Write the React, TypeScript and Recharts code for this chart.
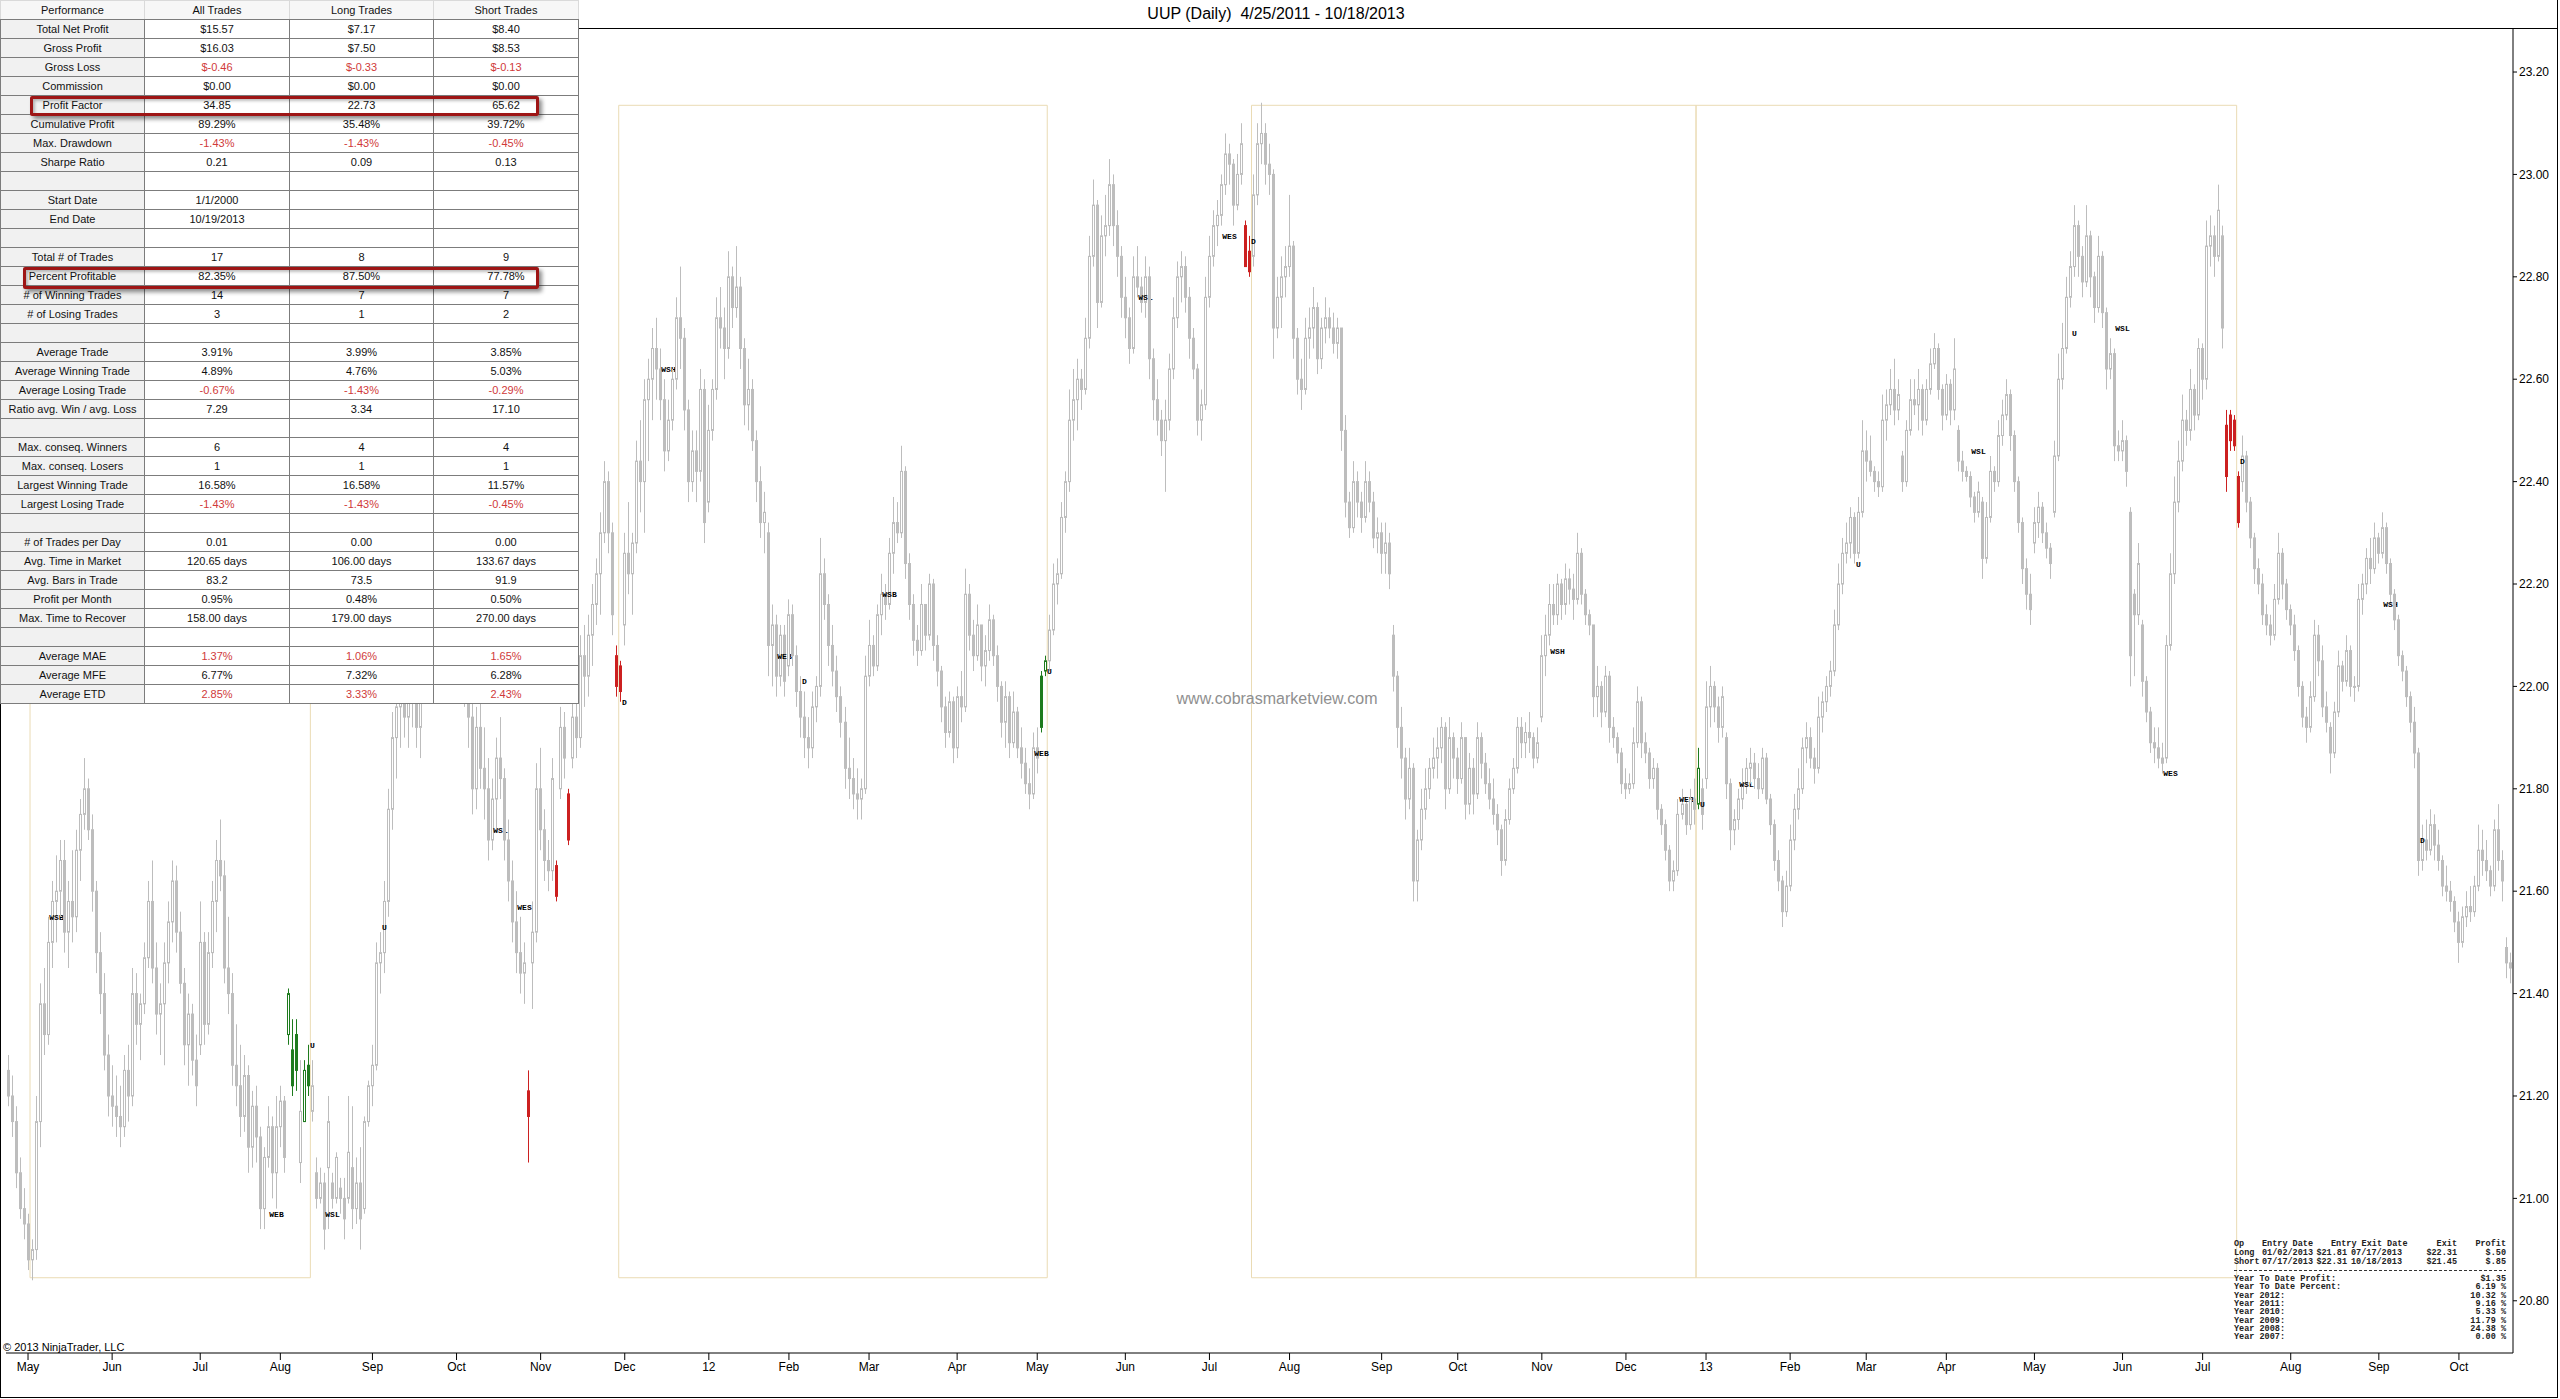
import React from "react";
import { ComposedChart, Bar, XAxis, YAxis, ReferenceArea } from "recharts";

// daily UUP bars, [open, high, low, close], one array per month
type OHLC = [number, number, number, number];

const apr11: OHLC[] = [
  [21.25,21.28,21.18,21.2],[21.2,21.24,21.12,21.15],[21.15,21.18,21.02,21.05],[21.05,21.08,20.96,20.98],[20.98,21.02,20.92,20.95],
];
const may11: OHLC[] = [
  [20.95,20.97,20.86,20.88],[20.88,20.92,20.84,20.9],[20.9,21.2,20.88,21.15],[21.15,21.42,21.1,21.38],[21.38,21.45,21.28,21.32],
  [21.32,21.55,21.3,21.5],[21.5,21.62,21.45,21.58],[21.58,21.67,21.5,21.6],[21.6,21.7,21.55,21.66],[21.66,21.7,21.48,21.52],
  [21.52,21.62,21.45,21.58],[21.58,21.68,21.5,21.55],[21.55,21.72,21.52,21.68],[21.68,21.78,21.62,21.75],[21.75,21.86,21.72,21.8],
  [21.8,21.82,21.7,21.72],[21.72,21.75,21.56,21.6],[21.6,21.62,21.44,21.48],[21.48,21.52,21.36,21.4],[21.4,21.44,21.25,21.28],
  [21.28,21.32,21.16,21.2],
];
const jun11: OHLC[] = [
  [21.2,21.26,21.14,21.18],[21.18,21.24,21.12,21.16],[21.16,21.22,21.1,21.14],[21.14,21.28,21.12,21.25],[21.25,21.3,21.15,21.2],
  [21.2,21.45,21.18,21.4],[21.4,21.44,21.3,21.34],[21.34,21.4,21.27,21.38],[21.38,21.5,21.36,21.47],[21.47,21.62,21.45,21.58],
  [21.58,21.66,21.42,21.45],[21.45,21.5,21.32,21.36],[21.36,21.42,21.28,21.38],[21.38,21.5,21.26,21.46],[21.46,21.58,21.42,21.54],
  [21.54,21.66,21.5,21.62],[21.62,21.65,21.48,21.52],[21.52,21.56,21.4,21.42],[21.42,21.45,21.26,21.3],[21.3,21.4,21.22,21.36],
  [21.36,21.38,21.24,21.27],[21.27,21.32,21.18,21.22],
];
const jul11: OHLC[] = [
  [21.3,21.58,21.28,21.5],[21.5,21.52,21.3,21.34],[21.34,21.52,21.32,21.48],[21.48,21.62,21.45,21.58],[21.58,21.7,21.52,21.66],
  [21.66,21.74,21.6,21.63],[21.63,21.66,21.42,21.45],[21.45,21.55,21.36,21.4],[21.4,21.44,21.22,21.26],[21.26,21.34,21.18,21.22],
  [21.22,21.3,21.12,21.16],[21.16,21.28,21.13,21.24],[21.24,21.26,21.05,21.1],[21.1,21.21,21.06,21.18],[21.18,21.22,21.07,21.12],
  [21.12,21.14,20.94,20.98],[20.98,21.1,20.94,21.08],[21.08,21.18,21.06,21.14],[21.14,21.16,21.0,21.05],[21.05,21.2,20.98,21.14],
];
const aug11: OHLC[] = [
  [21.14,21.22,21.1,21.19],[21.19,21.2,21.05,21.08],[21.32,21.41,21.3,21.4],[21.29,21.35,21.2,21.22],[21.32,21.35,21.21,21.25],
  [21.07,21.27,21.03,21.17],[21.15,21.27,21.15,21.25],[21.26,21.3,21.2,21.22],[21.17,21.27,21.15,21.22],[21.05,21.08,20.98,21.0],
  [21.0,21.06,20.99,21.03],[21.03,21.05,20.9,20.94],[21.06,21.2,20.94,21.15],[21.03,21.05,20.98,21.0],[21.0,21.09,20.99,21.08],
  [21.02,21.04,20.97,21.0],[21.0,21.04,20.92,20.96],[21.0,21.2,20.99,21.09],[21.06,21.18,20.94,20.98],[20.98,21.08,20.95,21.03],
  [21.03,21.1,20.9,20.96],[20.98,21.16,20.97,21.15],[21.15,21.23,21.14,21.22],
];
const sep11: OHLC[] = [
  [21.22,21.3,21.18,21.26],[21.26,21.5,21.25,21.46],[21.46,21.52,21.4,21.48],[21.48,21.62,21.44,21.58],[21.58,21.8,21.55,21.76],
  [21.76,21.95,21.72,21.9],[21.9,22.02,21.82,21.96],[21.96,22.1,21.88,22.05],[22.05,22.08,21.9,21.94],[21.94,22.06,21.88,22.02],
  [22.02,22.12,21.92,21.98],[21.98,22.04,21.88,21.92],[21.92,22.08,21.86,22.04],[22.04,22.28,22.0,22.24],[22.24,22.36,22.18,22.3],
  [22.3,22.34,22.12,22.16],[22.16,22.22,22.04,22.1],[22.1,22.2,22.02,22.15],[22.15,22.26,22.08,22.2],[22.2,22.3,22.12,22.26],
  [22.26,22.34,22.16,22.22],
];
const oct11: OHLC[] = [
  [22.22,22.4,22.15,22.35],[22.35,22.46,22.2,22.28],[22.28,22.3,21.96,22.02],[22.02,22.1,21.88,21.94],[21.94,22.04,21.75,21.8],
  [21.8,21.96,21.76,21.92],[21.92,21.98,21.8,21.84],[21.84,21.92,21.74,21.8],[21.8,21.86,21.66,21.7],[21.7,21.82,21.68,21.78],
  [21.78,21.9,21.72,21.86],[21.86,21.94,21.78,21.82],[21.82,21.84,21.66,21.7],[21.7,21.74,21.58,21.62],[21.62,21.66,21.5,21.54],
  [21.54,21.6,21.44,21.48],[21.48,21.55,21.4,21.44],[21.44,21.5,21.38,21.46],[21.21,21.25,21.07,21.16],[21.46,21.58,21.37,21.52],
  [21.52,21.85,21.5,21.8],
];
const nov11: OHLC[] = [
  [21.8,21.88,21.68,21.72],[21.72,21.76,21.62,21.66],[21.66,21.7,21.6,21.64],[21.64,21.86,21.62,21.82],[21.65,21.66,21.58,21.59],
  [21.8,21.96,21.78,21.92],[21.92,21.95,21.82,21.86],[21.79,21.8,21.69,21.7],[21.86,21.98,21.84,21.94],[21.94,22.0,21.86,21.9],
  [21.9,22.1,21.88,22.06],[22.06,22.12,21.96,22.02],[22.02,22.14,21.98,22.1],[22.1,22.2,22.04,22.16],[22.16,22.25,22.12,22.22],
  [22.22,22.34,22.14,22.3],[22.3,22.44,22.28,22.4],[22.4,22.42,22.26,22.3],[22.3,22.32,22.1,22.14],[22.06,22.08,21.98,22.0],
  [22.04,22.05,21.97,21.99],
];
const dec11: OHLC[] = [
  [22.12,22.3,22.08,22.26],[22.26,22.36,22.18,22.22],[22.22,22.3,22.14,22.28],[22.28,22.48,22.26,22.44],[22.44,22.52,22.34,22.4],
  [22.4,22.6,22.3,22.56],[22.56,22.64,22.44,22.6],[22.6,22.7,22.52,22.66],[22.66,22.72,22.56,22.62],[22.62,22.66,22.52,22.56],
  [22.56,22.6,22.42,22.46],[22.46,22.56,22.44,22.52],[22.52,22.62,22.5,22.6],[22.6,22.76,22.58,22.72],[22.72,22.82,22.62,22.68],
  [22.68,22.7,22.5,22.54],[22.54,22.56,22.36,22.4],[22.4,22.5,22.38,22.46],[22.46,22.5,22.36,22.42],[22.42,22.62,22.4,22.58],
  [22.58,22.6,22.28,22.32],
];
const jan12: OHLC[] = [
  [22.36,22.55,22.34,22.5],[22.5,22.6,22.48,22.58],[22.58,22.76,22.56,22.72],[22.72,22.78,22.66,22.7],[22.7,22.74,22.6,22.66],
  [22.66,22.85,22.64,22.8],[22.8,22.82,22.7,22.74],[22.74,22.86,22.72,22.78],[22.78,22.8,22.62,22.66],[22.66,22.68,22.51,22.55],
  [22.55,22.64,22.5,22.58],[22.58,22.6,22.46,22.48],[22.48,22.5,22.36,22.4],[22.4,22.43,22.29,22.32],[22.32,22.38,22.26,22.34],
  [22.3,22.32,22.02,22.08],[22.08,22.16,22.0,22.12],[22.12,22.14,21.98,22.02],[22.02,22.12,22.0,22.1],[22.1,22.12,21.98,22.01],
];
const feb12: OHLC[] = [
  [22.04,22.17,22.02,22.14],[22.14,22.16,22.04,22.06],[22.06,22.08,21.96,21.99],[21.99,22.02,21.9,21.94],[21.94,21.99,21.86,21.9],
  [21.9,21.94,21.84,21.88],[21.88,21.99,21.86,21.96],[21.96,22.02,21.93,22.0],[22.0,22.29,21.98,22.22],[22.22,22.25,22.13,22.16],
  [22.16,22.18,22.04,22.08],[22.08,22.12,22.0,22.03],[22.03,22.06,21.95,21.98],[21.98,22.0,21.9,21.93],[21.93,21.96,21.8,21.84],
  [21.84,21.9,21.78,21.82],[21.82,21.86,21.76,21.79],[21.79,21.84,21.74,21.78],[21.78,21.82,21.74,21.8],[21.8,22.06,21.79,22.02],
];
const mar12: OHLC[] = [
  [22.02,22.13,22.0,22.08],[22.08,22.1,22.02,22.04],[22.04,22.16,22.03,22.14],[22.14,22.22,22.1,22.18],[22.18,22.2,22.13,22.16],
  [22.16,22.29,22.15,22.26],[22.26,22.37,22.22,22.32],[22.32,22.36,22.28,22.3],[22.3,22.47,22.29,22.42],[22.42,22.43,22.21,22.24],
  [22.24,22.26,22.13,22.16],[22.16,22.18,22.06,22.09],[22.09,22.12,22.04,22.07],[22.07,22.2,22.06,22.16],[22.16,22.16,22.07,22.1],
  [22.1,22.22,22.09,22.2],[22.2,22.21,22.05,22.08],[22.08,22.1,22.0,22.03],[22.03,22.04,21.93,21.96],[21.96,21.98,21.88,21.91],
  [21.91,21.99,21.9,21.97],[21.97,21.98,21.85,21.88],
];
const apr12: OHLC[] = [
  [21.88,22.0,21.86,21.98],[21.98,22.03,21.93,21.96],[21.96,22.23,21.95,22.18],[22.18,22.2,22.07,22.1],[22.1,22.13,22.03,22.06],
  [22.06,22.16,22.05,22.12],[22.12,22.12,22.01,22.04],[22.04,22.1,22.0,22.07],[22.07,22.16,22.05,22.13],[22.13,22.14,22.04,22.06],
  [22.06,22.08,21.97,22.0],[22.0,22.01,21.9,21.93],[21.93,22.01,21.88,21.98],[21.98,21.99,21.86,21.89],[21.89,21.99,21.88,21.95],
  [21.95,21.96,21.86,21.88],[21.88,21.92,21.82,21.85],[21.85,21.88,21.79,21.81],[21.81,21.84,21.76,21.79],[21.79,21.91,21.78,21.88],
];
const may12: OHLC[] = [
  [21.88,21.92,21.83,21.86],[22.02,22.03,21.91,21.92],[22.03,22.06,22.02,22.05],[22.05,22.14,22.03,22.11],[22.11,22.24,22.1,22.2],
  [22.2,22.25,22.16,22.22],[22.22,22.36,22.21,22.33],[22.33,22.42,22.3,22.4],[22.4,22.58,22.38,22.52],[22.52,22.62,22.48,22.56],
  [22.56,22.64,22.5,22.6],[22.6,22.62,22.54,22.58],[22.58,22.72,22.57,22.68],[22.68,22.88,22.66,22.84],[22.84,22.99,22.82,22.94],
  [22.94,22.95,22.7,22.75],[22.75,22.92,22.74,22.88],[22.88,22.96,22.84,22.9],[22.9,23.03,22.88,22.98],[22.98,23.0,22.86,22.9],
  [22.9,22.93,22.8,22.84],[22.84,22.86,22.72,22.76],
];
const jun12: OHLC[] = [
  [22.76,22.8,22.68,22.72],[22.72,22.74,22.63,22.66],[22.66,22.84,22.65,22.8],[22.8,22.86,22.76,22.78],[22.78,22.8,22.73,22.75],
  [22.75,22.84,22.72,22.8],[22.8,22.82,22.6,22.64],[22.64,22.66,22.52,22.56],[22.56,22.6,22.49,22.52],[22.52,22.54,22.45,22.48],
  [22.48,22.56,22.38,22.52],[22.52,22.65,22.5,22.62],[22.62,22.76,22.6,22.72],[22.72,22.83,22.7,22.8],[22.8,22.85,22.75,22.82],
  [22.82,22.84,22.73,22.76],[22.76,22.78,22.64,22.68],[22.68,22.7,22.6,22.62],[22.62,22.63,22.49,22.52],[22.52,22.58,22.48,22.55],
  [22.55,22.8,22.54,22.76],
];
const jul12: OHLC[] = [
  [22.76,22.88,22.74,22.84],[22.84,22.93,22.82,22.9],[22.9,22.95,22.86,22.92],[22.92,23.0,22.9,22.98],[22.98,23.08,22.96,23.04],
  [23.04,23.06,22.98,23.02],[23.02,23.03,22.9,22.94],[22.94,23.04,22.93,23.0],[23.0,23.1,22.98,23.06],[22.9,22.91,22.82,22.82],
  [22.85,22.88,22.8,22.81],[22.84,23.0,22.82,22.96],[22.96,23.1,22.94,23.06],[23.06,23.14,23.02,23.08],[23.08,23.1,22.98,23.02],
  [23.02,23.06,22.96,23.0],[23.0,23.01,22.64,22.7],[22.7,22.8,22.68,22.76],[22.76,22.84,22.7,22.8],[22.8,22.86,22.76,22.82],
];
const aug12: OHLC[] = [
  [22.82,22.96,22.8,22.86],[22.86,22.87,22.64,22.68],[22.68,22.7,22.57,22.6],[22.6,22.64,22.54,22.58],[22.58,22.72,22.57,22.68],
  [22.68,22.74,22.64,22.7],[22.7,22.78,22.66,22.74],[22.74,22.75,22.61,22.64],[22.64,22.72,22.62,22.7],[22.7,22.76,22.67,22.72],
  [22.72,22.74,22.68,22.7],[22.7,22.73,22.65,22.67],[22.67,22.72,22.64,22.7],[22.7,22.7,22.46,22.5],[22.5,22.53,22.33,22.36],
  [22.36,22.38,22.29,22.31],[22.31,22.44,22.3,22.4],[22.4,22.42,22.33,22.36],[22.36,22.38,22.3,22.33],[22.33,22.44,22.32,22.4],
  [22.4,22.42,22.34,22.36],[22.36,22.38,22.27,22.29],[22.29,22.33,22.26,22.3],
];
const sep12: OHLC[] = [
  [22.3,22.32,22.22,22.26],[22.26,22.32,22.22,22.28],[22.28,22.3,22.19,22.22],[22.1,22.12,21.99,22.02],[22.02,22.03,21.88,21.92],
  [21.92,21.96,21.82,21.86],[21.86,21.88,21.74,21.78],[21.78,21.88,21.76,21.84],[21.84,21.85,21.58,21.62],[21.62,21.72,21.58,21.7],
  [21.7,21.8,21.68,21.76],[21.76,21.84,21.74,21.8],[21.8,21.86,21.78,21.84],[21.84,21.9,21.82,21.86],[21.86,21.92,21.82,21.88],
  [21.88,21.94,21.85,21.92],[21.92,21.93,21.76,21.8],[21.8,21.94,21.79,21.9],[21.9,21.91,21.82,21.86],
];
const oct12: OHLC[] = [
  [21.86,21.88,21.79,21.82],[21.82,21.93,21.81,21.9],[21.9,21.9,21.74,21.77],[21.77,21.87,21.75,21.84],[21.84,21.86,21.75,21.79],
  [21.79,21.93,21.78,21.9],[21.9,21.91,21.82,21.85],[21.85,21.87,21.79,21.81],[21.81,21.84,21.76,21.78],[21.78,21.82,21.73,21.75],
  [21.75,21.77,21.69,21.72],[21.72,21.73,21.63,21.66],[21.66,21.76,21.65,21.74],[21.74,21.82,21.73,21.8],[21.8,21.86,21.79,21.84],
  [21.84,21.94,21.83,21.92],[21.92,21.94,21.86,21.89],[21.89,21.93,21.86,21.91],[21.91,21.95,21.87,21.9],[21.9,21.91,21.84,21.86],
  [21.86,21.92,21.85,21.89],
];
const nov12: OHLC[] = [
  [21.94,22.1,21.93,22.06],[22.06,22.14,22.02,22.1],[22.1,22.2,22.08,22.16],[22.16,22.2,22.12,22.14],[22.14,22.22,22.12,22.2],
  [22.2,22.21,22.13,22.16],[22.16,22.24,22.14,22.21],[22.21,22.23,22.16,22.19],[22.19,22.22,22.13,22.17],[22.17,22.3,22.16,22.26],
  [22.26,22.27,22.16,22.18],[22.18,22.19,22.12,22.14],[22.14,22.15,22.1,22.12],[22.12,22.12,21.94,21.98],[21.98,22.04,21.94,22.0],
  [22.0,22.01,21.92,21.95],[21.95,22.04,21.94,22.02],[22.02,22.03,21.89,21.92],[21.92,21.94,21.88,21.9],[21.9,21.91,21.85,21.87],
  [21.87,21.88,21.79,21.81],
];
const dec12: OHLC[] = [
  [21.81,21.84,21.78,21.8],[21.8,21.83,21.79,21.81],[21.81,21.92,21.8,21.89],[21.89,22.0,21.88,21.97],[21.97,21.98,21.86,21.89],
  [21.89,21.91,21.85,21.87],[21.87,21.88,21.8,21.82],[21.82,21.86,21.8,21.84],[21.84,21.85,21.74,21.76],[21.76,21.77,21.71,21.73],
  [21.73,21.74,21.66,21.68],[21.68,21.69,21.6,21.62],[21.62,21.66,21.6,21.64],[21.64,21.78,21.63,21.75],[21.75,21.8,21.74,21.77],
  [21.77,21.78,21.71,21.73],[21.73,21.8,21.72,21.78],[21.78,21.82,21.73,21.76],[21.77,21.88,21.76,21.84],[21.8,21.82,21.72,21.75],
];
const jan13: OHLC[] = [
  [21.82,22.01,21.8,21.96],[21.96,22.04,21.92,22.0],[22.0,22.01,21.93,21.96],[21.96,21.98,21.89,21.92],[21.92,22.0,21.9,21.98],
  [21.9,21.91,21.78,21.81],[21.81,21.82,21.68,21.72],[21.72,21.76,21.69,21.74],[21.74,21.8,21.72,21.78],[21.78,21.84,21.76,21.81],
  [21.81,21.86,21.79,21.84],[21.84,21.88,21.81,21.85],[21.85,21.87,21.8,21.82],[21.82,21.85,21.78,21.8],[21.8,21.88,21.79,21.86],
  [21.86,21.87,21.77,21.78],[21.78,21.79,21.71,21.73],[21.73,21.74,21.64,21.66],[21.66,21.68,21.6,21.62],[21.62,21.63,21.53,21.56],
  [21.56,21.64,21.55,21.61],
];
const feb13: OHLC[] = [
  [21.61,21.73,21.6,21.7],[21.7,21.79,21.68,21.76],[21.76,21.84,21.74,21.8],[21.8,21.9,21.79,21.88],[21.88,21.93,21.85,21.9],
  [21.9,21.92,21.84,21.86],[21.86,21.88,21.81,21.84],[21.84,21.98,21.83,21.94],[21.94,21.99,21.91,21.97],[21.97,22.02,21.95,22.0],
  [22.0,22.05,21.98,22.03],[22.03,22.15,22.02,22.12],[22.12,22.24,22.11,22.2],[22.2,22.29,22.18,22.26],[22.26,22.32,22.24,22.28],
  [22.28,22.35,22.25,22.33],[22.33,22.34,22.24,22.26],[22.26,22.37,22.25,22.34],[22.34,22.52,22.33,22.46],
];
const mar13: OHLC[] = [
  [22.46,22.5,22.4,22.44],[22.44,22.49,22.41,22.42],[22.42,22.43,22.38,22.4],[22.4,22.42,22.37,22.39],[22.39,22.57,22.38,22.52],
  [22.52,22.58,22.48,22.55],[22.55,22.62,22.53,22.58],[22.58,22.64,22.51,22.54],[22.54,22.6,22.52,22.57],[22.45,22.46,22.38,22.4],
  [22.4,22.52,22.39,22.5],[22.5,22.6,22.49,22.56],[22.56,22.6,22.53,22.55],[22.55,22.62,22.5,22.58],[22.58,22.59,22.49,22.52],
  [22.52,22.6,22.51,22.58],[22.58,22.66,22.57,22.63],[22.63,22.69,22.62,22.66],[22.66,22.67,22.56,22.58],[22.58,22.59,22.5,22.53],
];
const apr13: OHLC[] = [
  [22.53,22.61,22.52,22.59],[22.59,22.6,22.51,22.54],[22.54,22.68,22.52,22.62],[22.5,22.51,22.42,22.44],[22.44,22.46,22.4,22.42],
  [22.42,22.43,22.4,22.41],[22.41,22.42,22.35,22.37],[22.37,22.38,22.32,22.34],[22.34,22.4,22.33,22.38],[22.36,22.37,22.21,22.25],
  [22.25,22.36,22.24,22.33],[22.33,22.45,22.32,22.42],[22.42,22.43,22.38,22.4],[22.4,22.52,22.39,22.49],[22.49,22.56,22.47,22.53],
  [22.53,22.6,22.52,22.57],[22.57,22.58,22.46,22.49],[22.49,22.5,22.38,22.4],[22.4,22.41,22.3,22.32],[22.32,22.33,22.2,22.23],
  [22.23,22.25,22.15,22.18],[22.18,22.22,22.12,22.15],
];
const may13: OHLC[] = [
  [22.28,22.35,22.26,22.32],[22.32,22.38,22.29,22.35],[22.35,22.36,22.28,22.3],[22.3,22.32,22.25,22.27],[22.27,22.28,22.21,22.24],
  [22.34,22.48,22.33,22.45],[22.45,22.65,22.44,22.6],[22.6,22.71,22.58,22.66],[22.66,22.8,22.65,22.76],[22.76,22.85,22.74,22.82],
  [22.82,22.94,22.8,22.9],[22.9,22.91,22.8,22.84],[22.84,22.86,22.76,22.79],[22.79,22.94,22.78,22.88],[22.88,22.89,22.76,22.8],
  [22.8,22.81,22.71,22.74],[22.74,22.88,22.73,22.84],[22.84,22.85,22.7,22.73],[22.73,22.74,22.58,22.62],[22.62,22.68,22.6,22.65],
  [22.65,22.66,22.44,22.47],[22.47,22.5,22.44,22.46],
];
const jun13: OHLC[] = [
  [22.46,22.52,22.44,22.48],[22.48,22.49,22.39,22.42],[22.34,22.35,22.0,22.06],[22.18,22.19,22.02,22.14],[22.14,22.28,22.12,22.24],
  [22.12,22.13,21.98,22.01],[22.01,22.02,21.93,21.95],[21.95,21.96,21.87,21.89],[21.89,21.92,21.85,21.88],[21.88,21.92,21.84,21.86],
  [21.86,21.89,21.83,21.85],[21.86,22.1,21.85,22.08],[22.08,22.26,22.07,22.22],[22.22,22.41,22.2,22.36],[22.36,22.48,22.34,22.44],
  [22.44,22.57,22.42,22.52],[22.52,22.54,22.47,22.5],[22.5,22.62,22.48,22.58],[22.58,22.59,22.5,22.53],[22.53,22.68,22.52,22.66],
];
const jul13: OHLC[] = [
  [22.66,22.67,22.56,22.6],[22.6,22.91,22.58,22.86],[22.86,22.92,22.82,22.88],[22.88,22.9,22.8,22.84],[22.84,22.98,22.83,22.93],
  [22.88,22.9,22.66,22.7],[22.51,22.54,22.38,22.41],[22.53,22.54,22.46,22.48],[22.52,22.53,22.46,22.47],[22.41,22.42,22.31,22.32],
  [22.4,22.49,22.38,22.45],[22.45,22.46,22.34,22.36],[22.36,22.37,22.27,22.29],[22.29,22.3,22.2,22.23],[22.23,22.25,22.18,22.2],
  [22.2,22.22,22.12,22.14],[22.14,22.16,22.1,22.12],[22.12,22.14,22.08,22.1],[22.1,22.2,22.09,22.17],[22.17,22.3,22.16,22.26],
  [22.26,22.27,22.17,22.2],[22.2,22.21,22.13,22.15],
];
const aug13: OHLC[] = [
  [22.15,22.16,22.1,22.12],[22.12,22.14,22.05,22.07],[22.07,22.08,21.98,22.0],[22.0,22.01,21.92,21.94],[21.94,21.96,21.89,21.92],
  [21.92,22.01,21.91,21.98],[21.98,22.13,21.97,22.1],[22.1,22.12,22.02,22.05],[22.05,22.08,21.94,21.96],[21.96,21.99,21.91,21.93],
  [21.92,21.93,21.83,21.87],[21.87,21.97,21.86,21.95],[21.95,22.07,21.94,22.04],[22.04,22.05,21.99,22.01],[22.01,22.1,22.0,22.07],
  [22.07,22.08,21.98,22.0],[22.0,22.02,21.97,22.0],[22.0,22.2,21.99,22.17],[22.17,22.22,22.14,22.2],[22.2,22.27,22.18,22.25],
  [22.25,22.29,22.2,22.23],[22.23,22.32,22.22,22.29],
];
const sep13: OHLC[] = [
  [22.29,22.3,22.24,22.26],[22.26,22.34,22.25,22.31],[22.31,22.32,22.22,22.24],[22.24,22.25,22.16,22.18],[22.18,22.19,22.11,22.13],
  [22.13,22.14,22.04,22.06],[22.06,22.07,22.01,22.03],[22.03,22.04,21.96,21.98],[21.98,21.99,21.91,21.93],[21.93,21.96,21.84,21.87],
  [21.87,21.88,21.63,21.66],[21.66,21.73,21.64,21.7],[21.7,21.74,21.66,21.68],[21.68,21.76,21.67,21.73],[21.73,21.75,21.66,21.69],
  [21.69,21.72,21.64,21.66],[21.66,21.67,21.59,21.61],[21.61,21.65,21.58,21.6],[21.6,21.62,21.56,21.58],[21.58,21.59,21.52,21.54],
];
const oct13: OHLC[] = [
  [21.54,21.56,21.46,21.5],[21.5,21.57,21.49,21.55],[21.55,21.6,21.53,21.57],[21.57,21.61,21.54,21.56],[21.56,21.63,21.55,21.61],
  [21.61,21.73,21.6,21.68],[21.68,21.72,21.63,21.66],[21.66,21.7,21.62,21.64],[21.64,21.65,21.59,21.61],[21.61,21.74,21.6,21.72],
  [21.72,21.77,21.64,21.66],[21.66,21.68,21.58,21.62],[21.49,21.51,21.43,21.46],[21.46,21.48,21.42,21.45],
];

const monthBars = [
  apr11, may11, jun11, jul11, aug11, sep11, oct11, nov11, dec11,
  jan12, feb12, mar12, apr12, may12, jun12, jul12, aug12, sep12, oct12, nov12, dec12,
  jan13, feb13, mar13, apr13, may13, jun13, jul13, aug13, sep13, oct13,
];
const monthLabels = [
  "", "May", "Jun", "Jul", "Aug", "Sep", "Oct", "Nov", "Dec",
  "12", "Feb", "Mar", "Apr", "May", "Jun", "Jul", "Aug", "Sep", "Oct", "Nov", "Dec",
  "13", "Feb", "Mar", "Apr", "May", "Jun", "Jul", "Aug", "Sep", "Oct",
];

// bar numbers painted as trade bars
const longBars = [70, 71, 72, 74, 75, 258, 259, 422];
const shortBars = [130, 137, 140, 152, 153, 309, 310, 554, 555, 556, 557];

// trade boxes: first bar, last bar, low price, high price
const tradeBoxes: [number, number, number, number][] = [
  [6, 75, 20.845, 23.135],
  [153, 259, 20.845, 23.135],
  [311, 421, 20.845, 23.135],
  [422, 556, 20.845, 23.135],
];

// swing markers: bar, text, price
const markers: [number, string, number][] = [
  [12, "WSB", 21.55], [67, "WEB", 20.97], [76, "U", 21.3], [81, "WSL", 20.97], [94, "U", 21.53],
  [123, "WSL", 21.72], [129, "WES", 21.57], [154, "D", 21.97], [165, "WSH", 22.62], [194, "WEB", 22.06],
  [199, "D", 22.01], [220, "WSB", 22.18], [258, "WEB", 21.87], [260, "U", 22.03], [284, "WSL", 22.76],
  [305, "WES", 22.88], [311, "D", 22.87], [387, "WSH", 22.07], [419, "WEB", 21.78], [423, "U", 21.77],
  [434, "WSL", 21.81], [462, "U", 22.24], [492, "WSL", 22.46], [516, "U", 22.69], [528, "WSL", 22.7],
  [540, "WES", 21.83], [558, "D", 22.44], [595, "WSH", 22.16], [603, "D", 21.7],
];

const priceTicks = [20.8, 21.0, 21.2, 21.4, 21.6, 21.8, 22.0, 22.2, 22.4, 22.6, 22.8, 23.0, 23.2];

const perfHeader = ["Performance", "All Trades", "Long Trades", "Short Trades"];
const perfLabels = [
  "Total Net Profit", "Gross Profit", "Gross Loss", "Commission", "Profit Factor", "Cumulative Profit",
  "Max. Drawdown", "Sharpe Ratio", "", "Start Date", "End Date", "", "Total # of Trades",
  "Percent Profitable", "# of Winning Trades", "# of Losing Trades", "", "Average Trade",
  "Average Winning Trade", "Average Losing Trade", "Ratio avg. Win / avg. Loss", "",
  "Max. conseq. Winners", "Max. conseq. Losers", "Largest Winning Trade", "Largest Losing Trade", "",
  "# of Trades per Day", "Avg. Time in Market", "Avg. Bars in Trade", "Profit per Month",
  "Max. Time to Recover", "", "Average MAE", "Average MFE", "Average ETD",
];
const allTrades = [
  "$15.57", "$16.03", "$-0.46", "$0.00", "34.85", "89.29%", "-1.43%", "0.21", "", "1/1/2000", "10/19/2013", "",
  "17", "82.35%", "14", "3", "", "3.91%", "4.89%", "-0.67%", "7.29", "", "6", "1", "16.58%", "-1.43%", "",
  "0.01", "120.65 days", "83.2", "0.95%", "158.00 days", "", "1.37%", "6.77%", "2.85%",
];
const longTrades = [
  "$7.17", "$7.50", "$-0.33", "$0.00", "22.73", "35.48%", "-1.43%", "0.09", "", "", "", "",
  "8", "87.50%", "7", "1", "", "3.99%", "4.76%", "-1.43%", "3.34", "", "4", "1", "16.58%", "-1.43%", "",
  "0.00", "106.00 days", "73.5", "0.48%", "179.00 days", "", "1.06%", "7.32%", "3.33%",
];
const shortTrades = [
  "$8.40", "$8.53", "$-0.13", "$0.00", "65.62", "39.72%", "-0.45%", "0.13", "", "", "", "",
  "9", "77.78%", "7", "2", "", "3.85%", "5.03%", "-0.29%", "17.10", "", "4", "1", "11.57%", "-0.45%", "",
  "0.00", "133.67 days", "91.9", "0.50%", "270.00 days", "", "1.65%", "6.28%", "2.43%",
];
const redRows = ["Gross Loss", "Max. Drawdown", "Average Losing Trade", "Largest Losing Trade", "Average MAE", "Average ETD"];
const boxedRows = ["Profit Factor", "Percent Profitable"];

const tradeHeader = ["Op", "Entry Date", "Entry Exit Date", "Exit", "Profit"];
const tradeRows = [
  ["Long", "01/02/2013", "$21.81", "07/17/2013", "$22.31", "$.50"],
  ["Short", "07/17/2013", "$22.31", "10/18/2013", "$21.45", "$.85"],
];
const summaryLabels = [
  "Year To Date Profit:", "Year To Date Percent:", "Year 2012:", "Year 2011:",
  "Year 2010:", "Year 2009:", "Year 2008:", "Year 2007:",
];
const summaryValues = ["$1.35", "6.19 %", "10.32 %", "9.16 %", "5.33 %", "11.79 %", "24.38 %", "0.00 %"];

const GRAY = "#bdbdbd";
const GREEN = "#1e7b1e";
const RED = "#cc2020";
const BOX = "#eadbb4";

const longSet = new Set(longBars);
const shortSet = new Set(shortBars);

const data: any[] = [];
const monthTicks: number[] = [];
const tickText: Record<number, string> = {};
monthBars.forEach((bars, m) => {
  if (monthLabels[m]) {
    monthTicks.push(data.length);
    tickText[data.length] = monthLabels[m];
  }
  bars.forEach(([o, h, l, c]) => {
    data.push({ i: data.length, o, h, l, c, range: [l, h] });
  });
});
markers.forEach(([i, text, p]) => {
  data[i].mk = text;
  data[i].mkP = p;
});

const Candle = (props: any) => {
  const { x, y, width, height, payload } = props;
  if (!payload || y == null || height == null) return null;
  const { o, h, l, c, i } = payload;
  const yHi = Math.min(y, y + height);
  const yLo = Math.max(y, y + height);
  const k = (yLo - yHi) / (h - l);
  const py = (p: number) => yHi + (h - p) * k;
  const cx = Math.floor(x + width / 2) + 0.5;
  const color = longSet.has(i) ? GREEN : shortSet.has(i) ? RED : GRAY;
  const bTop = py(Math.max(o, c));
  const bBot = py(Math.min(o, c));
  const up = c >= o;
  return (
    <g>
      <line x1={cx} x2={cx} y1={yHi} y2={bTop} stroke={color} strokeWidth={1} />
      <line x1={cx} x2={cx} y1={bBot} y2={yLo} stroke={color} strokeWidth={1} />
      <rect
        x={cx - 1}
        y={bTop}
        width={2}
        height={Math.max(bBot - bTop, 1)}
        fill={up ? "#ffffff" : color}
        stroke={color}
        strokeWidth={1}
      />
      {payload.mk && (
        <text
          x={cx}
          y={py(payload.mkP) + 3}
          textAnchor="middle"
          fontSize={8}
          fontWeight="bold"
          fontFamily="'Liberation Mono', 'DejaVu Sans Mono', monospace"
          fill="#000"
        >
          {payload.mk}
        </text>
      )}
    </g>
  );
};

const ROW_H = 19;
const COL_X = [0, 144, 289, 433, 578];

function PerfTable() {
  const rows = [perfHeader, ...perfLabels.map((lab, k) => [lab, allTrades[k], longTrades[k], shortTrades[k]])];
  return (
    <div style={{ position: "absolute", left: 0, top: 0, width: 578, height: rows.length * ROW_H + 1 }}>
      {rows.map((r, ri) =>
        r.map((txt, ci) => {
          const header = ri === 0;
          const red = ci > 0 && redRows.includes(r[0]);
          return (
            <div
              key={ri + "-" + ci}
              style={{
                position: "absolute",
                left: COL_X[ci],
                top: ri * ROW_H,
                width: COL_X[ci + 1] - COL_X[ci] + 1,
                height: ROW_H + 1,
                boxSizing: "border-box",
                border: header ? "1px solid #dadada" : "1px solid #7c7c7c",
                borderBottom: "1px solid #7c7c7c",
                background: header ? "#f7f7f7" : ci === 0 ? "#f1f1f1" : "#ffffff",
                color: red ? "#d03a3a" : "#111",
                fontSize: 11,
                lineHeight: ROW_H - 1 + "px",
                textAlign: "center",
                whiteSpace: "nowrap",
                overflow: "hidden",
              }}
            >
              {txt}
            </div>
          );
        })
      )}
      {boxedRows.map((lab) => {
        const ri = perfLabels.indexOf(lab) + 1;
        const left = ri < 10 ? 30 : 23;
        return (
          <div
            key={lab}
            style={{
              position: "absolute",
              left,
              top: ri * ROW_H + 1,
              width: 539 - left,
              height: ri < 10 ? 20 : 22,
              boxSizing: "border-box",
              border: "3px solid #9e1515",
              borderRadius: 2,
              boxShadow: "3px 3px 4px rgba(0,0,0,0.45), inset 2px 2px 3px rgba(0,0,0,0.25)",
            }}
          />
        );
      })}
    </div>
  );
}

function Overlay() {
  const mono = "'Liberation Mono', 'DejaVu Sans Mono', monospace";
  const rowY = [1245.5, 1254.5, 1263.5];
  return (
    <svg width={2560} height={1399} style={{ position: "absolute", left: 0, top: 0, pointerEvents: "none" }}>
      <line x1={0} x2={2558} y1={28.5} y2={28.5} stroke="#000" />
      <line x1={0.5} x2={0.5} y1={0} y2={1398} stroke="#000" />
      <line x1={2557.5} x2={2557.5} y1={0} y2={1398} stroke="#000" />
      <line x1={0} x2={2558} y1={1397.5} y2={1397.5} stroke="#000" />
      <text x={1276} y={19} textAnchor="middle" fontSize={16} fill="#000">
        UUP (Daily)&#160;&#160;4/25/2011 - 10/18/2013
      </text>
      <text x={1277} y={704} textAnchor="middle" fontSize={16} fill="#8f8f8f">
        www.cobrasmarketview.com
      </text>
      <text x={3} y={1351} fontSize={11} fill="#000">
        © 2013 NinjaTrader, LLC
      </text>
      <g fontFamily={mono} fontSize={8.5} fontWeight="bold" fill="#222">
        <text x={2234} y={rowY[0]}>{tradeHeader[0]}</text>
        <text x={2262} y={rowY[0]}>{tradeHeader[1]}</text>
        <text x={2331} y={rowY[0]}>{tradeHeader[2]}</text>
        <text x={2457} y={rowY[0]} textAnchor="end">{tradeHeader[3]}</text>
        <text x={2506} y={rowY[0]} textAnchor="end">{tradeHeader[4]}</text>
        {tradeRows.map((r, k) => (
          <g key={k}>
            <text x={2234} y={rowY[k + 1]}>{r[0]}</text>
            <text x={2262} y={rowY[k + 1]}>{r[1]}</text>
            <text x={2347} y={rowY[k + 1]} textAnchor="end">{r[2]}</text>
            <text x={2351} y={rowY[k + 1]}>{r[3]}</text>
            <text x={2457} y={rowY[k + 1]} textAnchor="end">{r[4]}</text>
            <text x={2506} y={rowY[k + 1]} textAnchor="end">{r[5]}</text>
          </g>
        ))}
        {summaryLabels.map((lab, k) => (
          <g key={lab}>
            <text x={2234} y={1281 + k * 8.35}>{lab}</text>
            <text x={2506} y={1281 + k * 8.35} textAnchor="end">{summaryValues[k]}</text>
          </g>
        ))}
      </g>
      <line x1={2234} x2={2506} y1={1270.5} y2={1270.5} stroke="#333" strokeDasharray="3 2" />
    </svg>
  );
}

export default function App() {
  return (
    <div
      style={{
        position: "absolute",
        left: 0,
        top: 0,
        width: 2560,
        height: 1399,
        background: "#fff",
        overflow: "hidden",
        fontFamily: "Arial, 'Liberation Sans', sans-serif",
      }}
    >
      <ComposedChart
        width={2560}
        height={1399}
        data={data}
        margin={{ top: 28, right: 0, bottom: 0, left: 6 }}
        barCategoryGap={0}
        barGap={0}
      >
        <XAxis
          dataKey="i"
          type="category"
          ticks={monthTicks}
          interval={0}
          tickFormatter={(v: number) => tickText[v] ?? ""}
          tickSize={7}
          tickMargin={2}
          height={46}
          axisLine={{ stroke: "#000" }}
          tickLine={{ stroke: "#000" }}
          tick={{ fill: "#000", fontSize: 12 }}
        />
        <YAxis
          orientation="right"
          type="number"
          domain={[20.698, 23.286]}
          allowDataOverflow
          ticks={priceTicks}
          interval={0}
          tickFormatter={(v: number) => v.toFixed(2)}
          width={47}
          tickSize={4}
          tickMargin={2}
          axisLine={{ stroke: "#000" }}
          tickLine={{ stroke: "#000" }}
          tick={{ fill: "#000", fontSize: 12 }}
        />
        {tradeBoxes.map(([a, b, lo, hi], k) => (
          <ReferenceArea
            key={k}
            x1={a}
            x2={b}
            y1={lo}
            y2={hi}
            fill="none"
            fillOpacity={0}
            stroke={BOX}
            strokeWidth={1}
            ifOverflow="visible"
          />
        ))}
        <Bar dataKey="range" isAnimationActive={false} shape={(p: any) => <Candle {...p} />} />
      </ComposedChart>
      <Overlay />
      <PerfTable />
    </div>
  );
}
